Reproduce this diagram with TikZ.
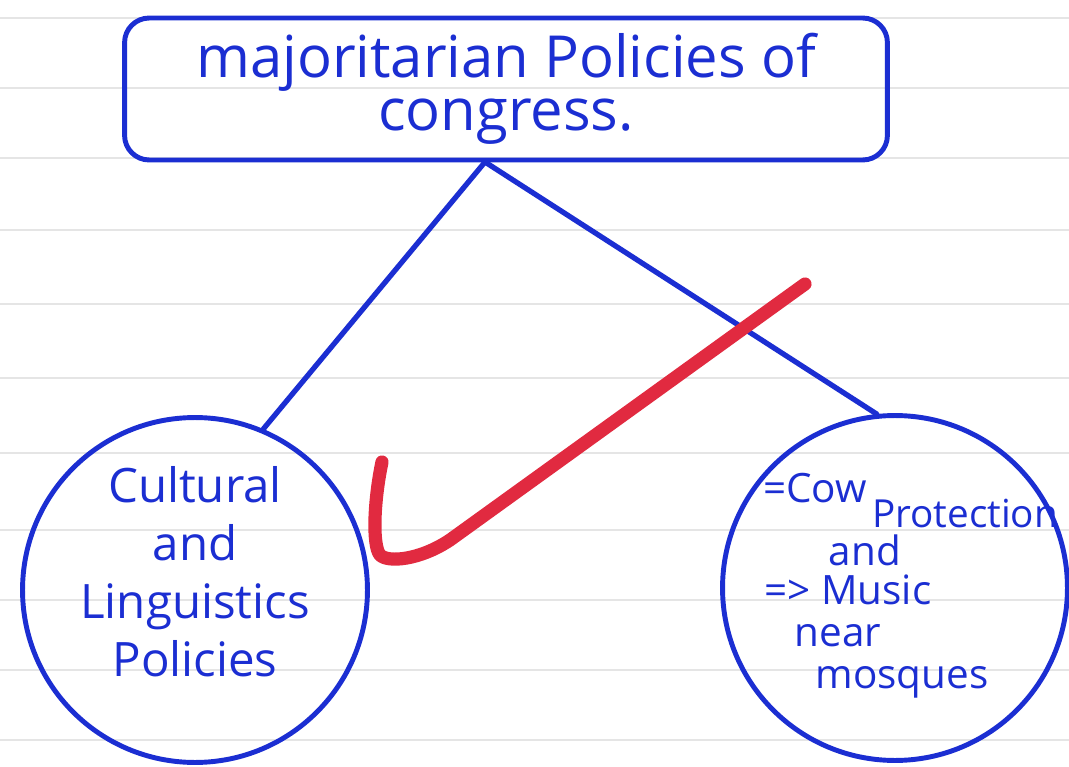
\documentclass[tikz,border=0pt]{standalone}
\usepackage{fontspec}
\setmainfont{Open Sans}
\usetikzlibrary{positioning,calc}
\definecolor{ink}{HTML}{1B2ED2}
\definecolor{tick}{HTML}{E12A40}
\tikzset{
  pen/.style={draw=ink, line width=2.8pt},
  topbox/.style={pen, rounded corners=14pt, minimum width=15.26cm, minimum height=2.84cm, align=center, text=ink, font=\fontsize{33}{30}\selectfont},
  bubble/.style={pen, circle, inner sep=0pt, minimum size=6.9cm},
  hand/.style={text=ink, inner sep=0pt, align=center, font=\fontsize{23}{26}\selectfont},
  link/.style={draw=ink, line width=3pt, line cap=round}}

\begin{document}
\begin{tikzpicture}[x=0.02cm, y=-0.02cm]
\useasboundingbox[fill=white] (0,0) rectangle (1069,767);
% ruled paper
\foreach \ry in {18,88,158,230,304,378,453,530,600,670,740}
  \draw[black!10, line width=0.6pt] (0,\ry) -- (1069,\ry);

\node[topbox] (maj) at (506,89) {majoritarian Policies of\\congress.};
\node[bubble] (cult) at (195,590) {};
\node[bubble] (cow) at (895,588) {};

\node[hand, font=\fontsize{27}{33}\selectfont] (cultxt) at (195,572) {Cultural\\and\\Linguistics\\Policies};

\node[hand] (cw) at (815,488) {=Cow};
\node[hand, font=\fontsize{22}{24}\selectfont] (prot) at (965,514) {Protection};
\node[hand] (and) at (865,550) {and};
\node[hand] (mus) at (848,590) {=> Music};
\node[hand] (near) at (838,636) {near};
\node[hand] (mosq) at (902,682) {mosques};

\coordinate (apex) at (485,162);
\draw[link] (apex) -- (cult.67);
\draw[link] (apex) -- (cow.96);

% red tick
\draw[tick, line width=7.5pt, line cap=round, line join=round]
  (382,462) .. controls (374,500) and (372,545) .. (380,555)
  .. controls (388,563) and (420,560) .. (450,540) -- (805,284);
\end{tikzpicture}
\end{document}
